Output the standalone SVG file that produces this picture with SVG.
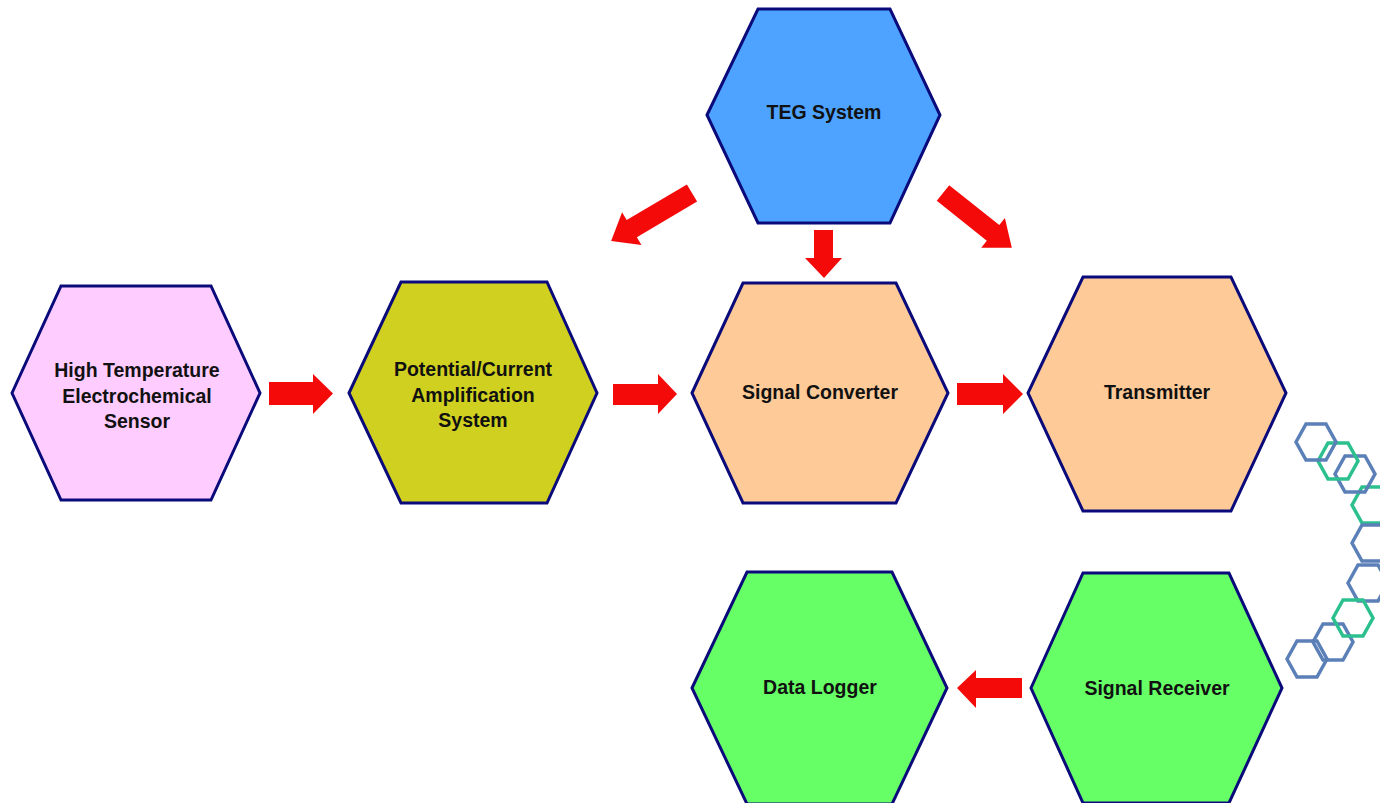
<svg xmlns="http://www.w3.org/2000/svg" width="1380" height="803" viewBox="0 0 1380 803">
<style>
.hex{stroke:#0a0a7a;stroke-width:3;stroke-linejoin:miter}
.lbl{font-family:"Liberation Sans",Arial,sans-serif;font-weight:bold;font-size:19.5px;fill:#111;text-anchor:middle}
.arr{fill:#f50a0a}
.dh{fill:none;stroke-width:3.5}
.db{stroke:#5b80b8}
.dg{stroke:#2cc08f}
</style>
<defs>
<polygon id="sh" points="-20,0 -10,-18 10,-18 20,0 10,18 -10,18"/>
</defs>
<rect width="1380" height="803" fill="#ffffff"/>
<g id="decor">
<use href="#sh" class="dh dg" x="1372" y="505"/>
<use href="#sh" class="dh db" x="1355" y="474"/>
<use href="#sh" class="dh dg" x="1338" y="461"/>
<use href="#sh" class="dh db" x="1316" y="442"/>
<use href="#sh" class="dh db" x="1372" y="543"/>
<use href="#sh" class="dh db" x="1368" y="583"/>
<use href="#sh" class="dh db" x="1307" y="659"/>
<use href="#sh" class="dh db" x="1333" y="642"/>
<use href="#sh" class="dh dg" x="1353" y="618"/>
</g>
<g id="connectors">
<polygon class="arr" points="269,382 313,382 313,374 333,393.5 313,414 313,405 269,405"/>
<polygon class="arr" points="613,384 658,384 658,374 677,394 658,414 658,405 613,405"/>
<polygon class="arr" points="957,383 1003,383 1003,374 1023,394 1003,414 1003,405 957,405"/>
<polygon class="arr" points="1022,678 976,678 976,670 957,688 976,708 976,698 1022,698"/>
<polygon class="arr" points="814,230 833,230 833,258 842,258 824,278 805,258 814,258"/>
<polygon class="arr" transform="translate(692,193) rotate(149.35)" points="0,-10 70,-10 70,-19 94,0 70,19 70,10 0,10"/>
<polygon class="arr" transform="translate(943,193) rotate(38.56)" points="0,-10 64,-10 64,-19 88,0 64,19 64,10 0,10"/>
</g>
<g id="sensor">
<polygon class="hex" fill="#ffccff" points="12,393 61,286 211,286 260,393 211,500 61,500"/>
<text class="lbl" x="137" y="377">High Temperature</text>
<text class="lbl" x="137" y="402.5">Electrochemical</text>
<text class="lbl" x="137" y="428">Sensor</text>
</g>
<g id="amplification">
<polygon class="hex" fill="#d0d020" points="349,393 401,282 547,282 597,393 547,503 401,503"/>
<text class="lbl" x="473" y="376">Potential/Current</text>
<text class="lbl" x="473" y="401.5">Amplification</text>
<text class="lbl" x="473" y="427">System</text>
</g>
<g id="teg">
<polygon class="hex" fill="#4da3ff" points="707,115 758,9 890,9 940,115 890,223 758,223"/>
<text class="lbl" x="824" y="119">TEG System</text>
</g>
<g id="converter">
<polygon class="hex" fill="#fdca98" points="692,393 743,283 896,283 948,393 896,503 743,503"/>
<text class="lbl" x="820" y="399">Signal Converter</text>
</g>
<g id="transmitter">
<polygon class="hex" fill="#fdca98" points="1028,393 1083,277 1231,277 1286,393 1231,511 1083,511"/>
<text class="lbl" x="1157" y="399">Transmitter</text>
</g>
<g id="logger">
<polygon class="hex" fill="#66ff66" points="692,688 747,572 892,572 947,688 892,804 747,804"/>
<text class="lbl" x="820" y="694">Data Logger</text>
</g>
<g id="receiver">
<polygon class="hex" fill="#66ff66" points="1031,688 1083,573 1229,573 1282,688 1229,803 1083,803"/>
<text class="lbl" x="1157" y="695">Signal Receiver</text>
</g>
</svg>
